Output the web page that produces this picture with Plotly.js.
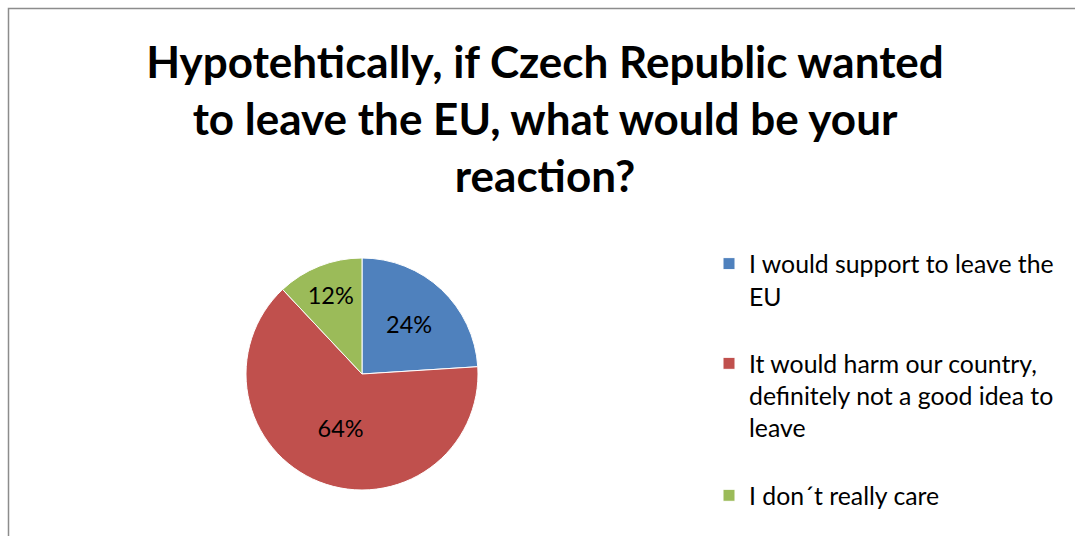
<!DOCTYPE html>
<html>
<head>
<meta charset="utf-8">
<script src="https://cdn.plot.ly/plotly-3.0.1.min.js"></script>
<style>html,body{margin:0;padding:0;background:#fff}#chart{width:1075px;height:536px}</style>
</head>
<body>
<div id="chart"></div>
<script>
var categories = [
  "I would support to leave the<br>EU<br> ",
  "It would harm our country,<br>definitely not a good idea to<br>leave<br> ",
  "I don\u00b4t really care"
];
var shares = [24, 64, 12];
var sliceColors = ["#4F81BD", "#C0504D", "#9BBB59"];
var titleText = "Hypotehtically, if Czech Republic wanted<br>to leave the EU, what would be your<br>reaction?";

var W = 1075, H = 536;
var trace = {
  type: "pie",
  labels: categories,
  values: shares,
  sort: false,
  direction: "clockwise",
  rotation: 0,
  textinfo: "percent",
  textposition: "inside",
  insidetextorientation: "horizontal",
  textfont: {family: "Lato, 'Open Sans', sans-serif", size: 23.5, color: "#000000"},
  marker: {colors: sliceColors, line: {color: "#ffffff", width: 1}},
  domain: {x: [246 / W, 478 / W], y: [1 - 490 / H, 1 - 258 / H]},
  hoverinfo: "percent"
};

var layout = {
  width: W, height: H,
  margin: {l: 0, r: 0, t: 0, b: 0},
  paper_bgcolor: "#ffffff",
  font: {family: "Lato, 'Open Sans', sans-serif", color: "#000000"},
  title: {
    text: "<b>" + titleText + "</b>",
    font: {family: "Lato, 'Open Sans', sans-serif", size: 44, color: "#000000"},
    x: 545 / W, xanchor: "center", xref: "paper",
    y: 1 - 78 / H, yanchor: "top", yref: "container"
  },
  showlegend: true,
  legend: {
    x: 709 / W, xanchor: "left",
    y: 1 - 241 / H, yanchor: "top",
    valign: "top",
    font: {family: "Lato, 'Open Sans', sans-serif", size: 24.8, color: "#000000"},
    bgcolor: "rgba(0,0,0,0)",
    traceorder: "normal"
  },
  shapes: [
    {type: "rect", xref: "paper", yref: "paper", x0: 8.5 / W, x1: 1.05, y0: -0.05, y1: 1 - 8.5 / H,
     line: {color: "#8c8c8c", width: 1.5}, fillcolor: "rgba(0,0,0,0)"}
  ]
};

Plotly.newPlot("chart", [trace], layout, {displayModeBar: false, staticPlot: true});
</script>
</body>
</html>
